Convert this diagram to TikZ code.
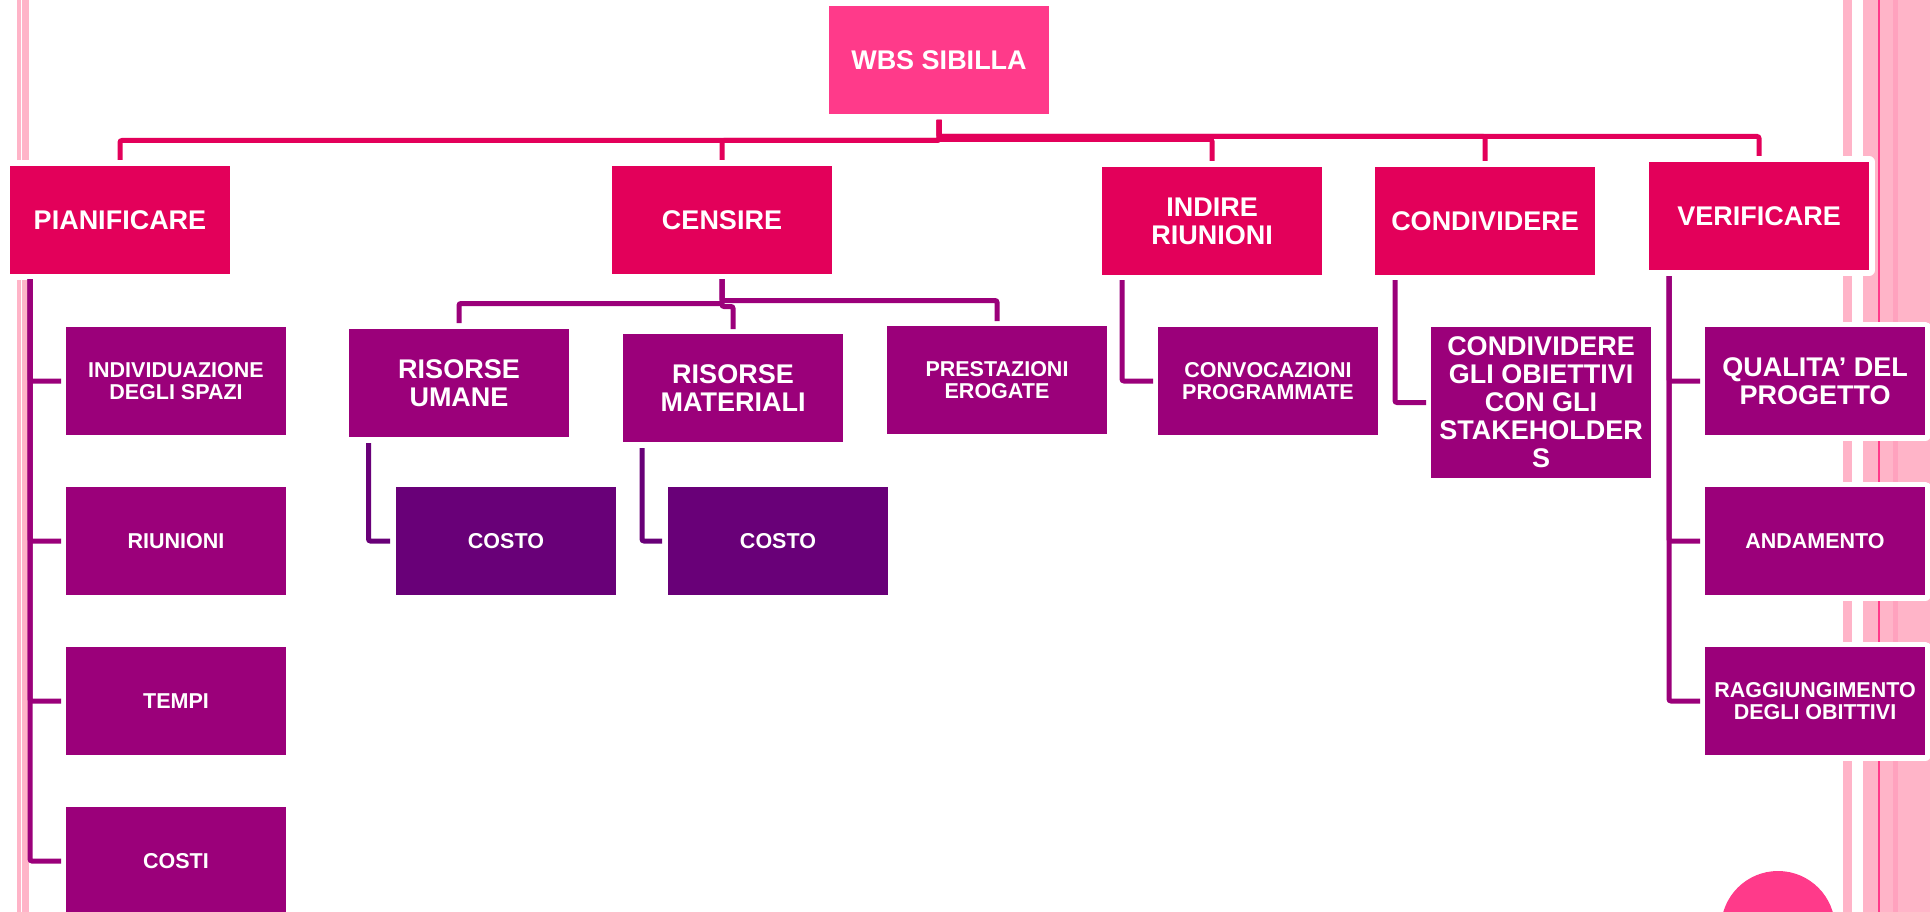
\documentclass[tikz,border=0pt]{standalone}
\usepackage{fontspec}
\setmainfont{Liberation Sans}
\definecolor{hot}{HTML}{FF3A8A}
\definecolor{lvla}{HTML}{E3005A}
\definecolor{lvlb}{HTML}{9B007A}
\definecolor{lvlc}{HTML}{690078}
\definecolor{stripe}{HTML}{FFB4C8}
\definecolor{stripeD}{HTML}{FFA2BE}
\begin{document}
\begin{tikzpicture}[x=1pt,y=-1pt,
  basebox/.style={anchor=north west, minimum width=220pt, minimum height=108pt,
    inner sep=0pt, outer sep=0pt, text=white, align=center,
    preaction={draw=white, line width=11pt, line join=round}},
  bigtxt/.style={font=\bfseries\fontsize{27}{28}\selectfont},
  smalltxt/.style={font=\bfseries\fontsize{21.5}{21.7}\selectfont},
  boxw/.style={basebox, bigtxt, fill=hot},
  boxa/.style={basebox, bigtxt, fill=lvla},
  boxb/.style={basebox, bigtxt, fill=lvlb},
  boxbs/.style={basebox, smalltxt, fill=lvlb},
  boxc/.style={basebox, smalltxt, fill=lvlc},
  pk/.style={draw=lvla, line width=5pt, rounded corners=2pt},
  pu/.style={draw=lvlb, line width=5pt, rounded corners=2pt},
  pd/.style={draw=lvlc, line width=5pt, rounded corners=2pt}]
\useasboundingbox (0,0) rectangle (1930,912);
\clip (0,0) rectangle (1930,912);
\fill[white] (0,0) rectangle (1930,912);
% decorative stripes
\fill[stripe] (17.3,0) rectangle (20.7,912);
\fill[stripe] (22,0) rectangle (28.7,912);
\fill[stripe] (1843,0) rectangle (1852,912);
\fill[stripe] (1863,0) rectangle (1930,912);
\fill[stripeD] (1893,0) rectangle (1898,912);
\fill[hot] (1878.3,0) rectangle (1880,912);
% circle
\fill[hot] (1778,928) circle (57pt);
% nodes
\node[boxw] (wbs) at (829,6) {WBS SIBILLA};
\node[boxa] (pian) at (10,166) {PIANIFICARE};
\node[boxa] (cens) at (612,166) {CENSIRE};
\node[boxa] (indi) at (1102,167) {INDIRE\\RIUNIONI};
\node[boxa] (cond) at (1375,167) {CONDIVIDERE};
\node[boxa] (veri) at (1649,162) {VERIFICARE};
\node[boxbs] (indiv) at (66,327) {INDIVIDUAZIONE\\DEGLI SPAZI};
\node[boxbs] (riun) at (66,487) {RIUNIONI};
\node[boxbs] (tempi) at (66,647) {TEMPI};
\node[boxbs] (costi) at (66,807) {COSTI};
\node[boxb] (ru) at (349,329) {RISORSE\\UMANE};
\node[boxb] (rm) at (623,334) {RISORSE\\MATERIALI};
\node[boxbs] (prest) at (887,326) {PRESTAZIONI\\EROGATE};
\node[boxc] (costoa) at (396,487) {COSTO};
\node[boxc] (costob) at (668,487) {COSTO};
\node[boxbs] (conv) at (1158,327) {CONVOCAZIONI\\PROGRAMMATE};
\node[boxb, minimum height=151pt] (cgo) at (1431,327) {CONDIVIDERE\\GLI OBIETTIVI\\CON GLI\\STAKEHOLDER\\S};
\node[boxb] (qual) at (1705,327) {QUALITA’ DEL\\PROGETTO};
\node[boxbs] (anda) at (1705,487) {ANDAMENTO};
\node[boxbs] (ragg) at (1705,647) {RAGGIUNGIMENTO\\DEGLI OBITTIVI};
% level 0 -> 1
\draw[pk] ([yshift=-6pt]wbs.south) -- ++(0,-20.5pt) -| ([yshift=6pt]pian.north);
\draw[pk] ([yshift=-6pt]wbs.south) -- ++(0,-20.5pt) -| ([yshift=6pt]cens.north);
\draw[pk] ([yshift=-6pt]wbs.south) -- ++(0,-19.5pt) -| ([yshift=6pt]indi.north);
\draw[pk] ([yshift=-6pt]wbs.south) -- ++(0,-16.5pt) -| ([yshift=6pt]cond.north);
\draw[pk] ([yshift=-6pt]wbs.south) -- ++(0,-16.5pt) -| ([yshift=6pt]veri.north);
% level 1 -> 2
\foreach \t in {indiv,riun,tempi,costi}
  \draw[pu] ([xshift=20pt,yshift=-5pt]pian.south west) |- ([xshift=-5pt]\t.west);
\draw[pu] ([yshift=-5pt]cens.south) -- ++(0,-24.5pt) -| ([yshift=6pt]ru.north);
\draw[pu] ([yshift=-5pt]cens.south) -- ++(0,-27.5pt) -| ([yshift=5pt]rm.north);
\draw[pu] ([yshift=-5pt]cens.south) -- ++(0,-21.5pt) -| ([yshift=5pt]prest.north);
\draw[pu] ([xshift=20pt,yshift=-5pt]indi.south west) |- ([xshift=-5pt]conv.west);
\draw[pu] ([xshift=20pt,yshift=-5pt]cond.south west) |- ([xshift=-5pt]cgo.west);
\foreach \t in {qual,anda,ragg}
  \draw[pu] ([xshift=20pt,yshift=-6pt]veri.south west) |- ([xshift=-5pt]\t.west);
% level 2 -> 3
\draw[pd] ([xshift=19.5pt,yshift=-6pt]ru.south west) |- ([xshift=-6pt]costoa.west);
\draw[pd] ([xshift=19pt,yshift=-6pt]rm.south west) |- ([xshift=-6pt]costob.west);
\end{tikzpicture}
\end{document}
